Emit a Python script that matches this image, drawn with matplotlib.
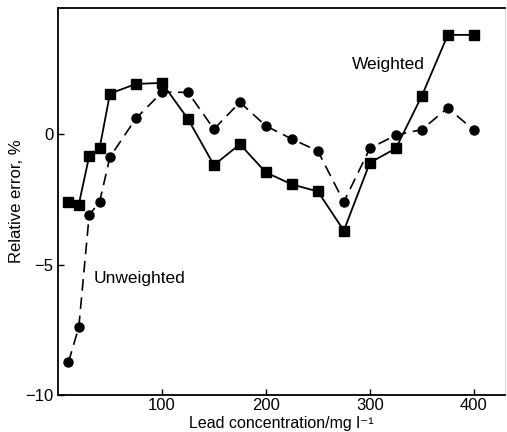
import numpy as np
import matplotlib.pyplot as plt

plt.rcParams['font.family'] = ['Liberation Sans', 'DejaVu Sans']

# Concentração de chumbo (mg/l)
conc = [10, 20, 30, 40, 50, 75, 100, 125, 150, 175, 200, 225, 250, 275, 300, 325, 350, 375, 400]

# Erro relativo (%)
weighted = [-2.6, -2.7, -0.85, -0.55, 1.55, 1.92, 1.96, 0.58, -1.19, -0.39, -1.47, -1.93, -2.2,
            -3.7, -1.1, -0.55, 1.46, 3.8, 3.8]
unweighted = [-8.75, -7.4, -3.1, -2.6, -0.88, 0.6, 1.6, 1.6, 0.19, 1.22, 0.31, -0.19, -0.65,
              -2.6, -0.55, -0.04, 0.17, 1.0, 0.15]

fig = plt.figure(figsize=(5.07, 4.32), dpi=100)
ax = fig.add_axes([0.1144, 0.0856, 0.8816, 0.8959])

ax.plot(conc, weighted, color='black', linewidth=1.3, marker='s', markersize=6.5)
ax.plot(conc, unweighted, color='black', linewidth=1.2, linestyle=(0, (7, 4)),
        marker='o', markersize=6.5)

ax.text(283, 2.65, 'Weighted', fontsize=12.5, va='center')
ax.text(34, -5.55, 'Unweighted', fontsize=12.5, va='center')

ax.set_xlim(0, 430)
ax.set_ylim(-10, 4.83)
ax.set_xticks([100, 200, 300, 400])
ax.set_yticks([-10, -5, 0])
ax.set_yticklabels(['\u221210', '\u22125', '0'])
ax.tick_params(direction='in', length=4, labelsize=12, width=1)
ax.tick_params(axis='x', pad=2)
ax.set_xlabel('Lead concentration/mg l\u207b\u00b9', fontsize=11.5)
ax.set_ylabel('Relative error, %', fontsize=12)
ax.xaxis.set_label_coords(0.5, -0.054)
ax.yaxis.set_label_coords(-0.075, 0.5)

ax.spines['right'].set_color('#dddddd')
for s in ['left', 'top', 'bottom']:
    ax.spines[s].set_linewidth(1.3)

plt.savefig('out.png', dpi=100)
